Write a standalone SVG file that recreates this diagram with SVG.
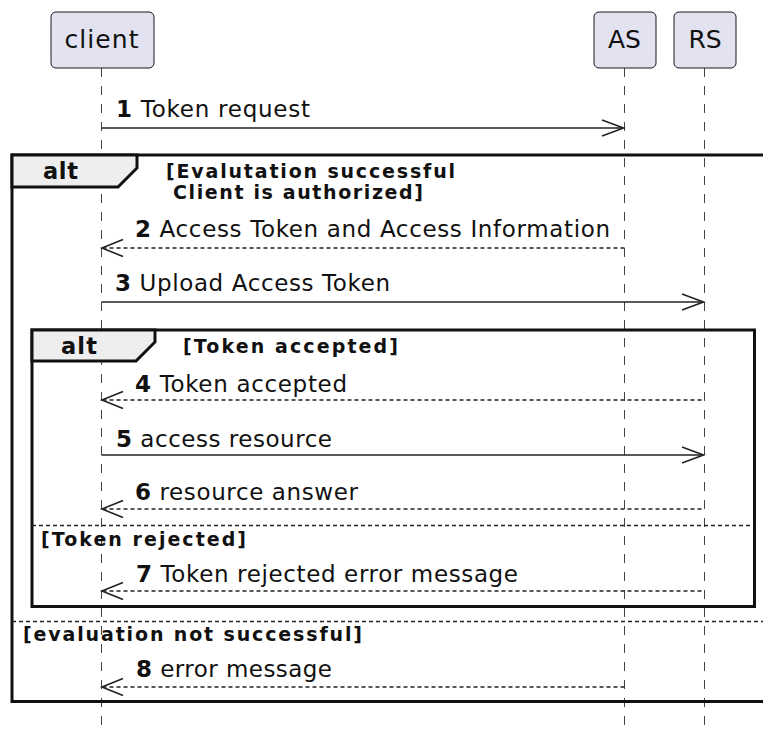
<svg xmlns="http://www.w3.org/2000/svg" width="763" height="731" viewBox="0 0 763 731">
<style>
.bg{fill:#FFFFFF}
.part rect{fill:#E2E2F0;stroke:#181818;stroke-width:1}
.part text{font-family:"DejaVu Sans",sans-serif;font-size:25px;fill:#111;text-anchor:middle}
.life{stroke:#444;stroke-width:1;stroke-dasharray:9,9;fill:none}
.frame{fill:none;stroke:#111;stroke-width:3}
.tab{fill:#EEEEEE;stroke:#111;stroke-width:3}
.sep{stroke:#222;stroke-width:1.4;stroke-dasharray:4,3;fill:none}
.msg{stroke:#222;stroke-width:1.7;fill:none}
.ret{stroke:#222;stroke-width:1.4;stroke-dasharray:4,3;fill:none}
.head{stroke:#222;stroke-width:1.6;fill:none}
.lbl{font-family:"DejaVu Sans",sans-serif;font-size:23px;fill:#111}
.lbl tspan.n{font-weight:bold}
.kw{font-family:"DejaVu Sans",sans-serif;font-size:22.5px;font-weight:bold;fill:#111}
.guard{font-family:"DejaVu Sans",sans-serif;font-size:19px;font-weight:bold;fill:#111}
</style>
<rect class="bg" x="0" y="0" width="763" height="731"/>
<g id="lifelines">
<line class="life" x1="101.5" y1="68" x2="101.5" y2="731"/>
<line class="life" x1="624.5" y1="68" x2="624.5" y2="731"/>
<line class="life" x1="704.5" y1="68" x2="704.5" y2="731"/>
</g>
<g id="participant-client" class="part">
<rect x="51" y="12" width="103" height="56" rx="5"/>
<text x="101.5" y="48" textLength="74" lengthAdjust="spacing">client</text>
</g>
<g id="participant-AS" class="part">
<rect x="594" y="12" width="62" height="56" rx="5"/>
<text x="624.5" y="48">AS</text>
</g>
<g id="participant-RS" class="part">
<rect x="674" y="12" width="62" height="56" rx="5"/>
<text x="705" y="48">RS</text>
</g>
<g id="alt-outer">
<path class="frame" d="M800,155 L12,155 L12,701.5 L800,701.5"/>
<path class="tab" d="M12,155 L137,155 L137,168 L118,187 L12,187 Z"/>
<text class="kw" x="43" y="179" textLength="35" lengthAdjust="spacing">alt</text>
<text class="guard" x="166" y="178" textLength="289" lengthAdjust="spacing">[Evalutation successful</text>
<text class="guard" x="173" y="199" textLength="250" lengthAdjust="spacing">Client is authorized]</text>
<line class="sep" x1="12" y1="621.5" x2="800" y2="621.5"/>
<text class="guard" x="23" y="641" textLength="339" lengthAdjust="spacing">[evaluation not successful]</text>
</g>
<g id="alt-inner">
<rect class="frame" x="32" y="330" width="722.5" height="276.5"/>
<path class="tab" d="M32,330 L155,330 L155,342 L136,361 L32,361 Z"/>
<text class="kw" x="61" y="354" textLength="36" lengthAdjust="spacing">alt</text>
<text class="guard" x="183" y="353" textLength="215" lengthAdjust="spacing">[Token accepted]</text>
<line class="sep" x1="32" y1="525.5" x2="754.5" y2="525.5"/>
<text class="guard" x="41" y="546" textLength="205" lengthAdjust="spacing">[Token rejected]</text>
</g>
<g id="connectors">
<g id="m1">
<line class="msg" x1="101.5" y1="128" x2="623.5" y2="128"/>
<polyline class="head" points="602,120 623.5,128 602,136"/>
<text class="lbl" x="116" y="117" textLength="194" lengthAdjust="spacing"><tspan class="n">1</tspan> Token request</text>
</g>
<g id="m2">
<line class="ret" x1="102.5" y1="248" x2="624.5" y2="248"/>
<polyline class="head" points="123,239.5 102,248 123,256.5"/>
<text class="lbl" x="135" y="237" textLength="475" lengthAdjust="spacing"><tspan class="n">2</tspan> Access Token and Access Information</text>
</g>
<g id="m3">
<line class="msg" x1="101.5" y1="302" x2="703.5" y2="302"/>
<polyline class="head" points="682,294 703.5,302 682,310"/>
<text class="lbl" x="115" y="291" textLength="275" lengthAdjust="spacing"><tspan class="n">3</tspan> Upload Access Token</text>
</g>
<g id="m4">
<line class="ret" x1="102.5" y1="400" x2="704.5" y2="400"/>
<polyline class="head" points="123,391.5 102,400 123,408.5"/>
<text class="lbl" x="135" y="392" textLength="212" lengthAdjust="spacing"><tspan class="n">4</tspan> Token accepted</text>
</g>
<g id="m5">
<line class="msg" x1="101.5" y1="455" x2="703.5" y2="455"/>
<polyline class="head" points="682,447 703.5,455 682,463"/>
<text class="lbl" x="116" y="447" textLength="216" lengthAdjust="spacing"><tspan class="n">5</tspan> access resource</text>
</g>
<g id="m6">
<line class="ret" x1="102.5" y1="509" x2="704.5" y2="509"/>
<polyline class="head" points="123,500.5 102,509 123,517.5"/>
<text class="lbl" x="135" y="500" textLength="223" lengthAdjust="spacing"><tspan class="n">6</tspan> resource answer</text>
</g>
<g id="m7">
<line class="ret" x1="102.5" y1="591" x2="704.5" y2="591"/>
<polyline class="head" points="123,582.5 102,591 123,599.5"/>
<text class="lbl" x="136" y="582" textLength="382" lengthAdjust="spacing"><tspan class="n">7</tspan> Token rejected error message</text>
</g>
<g id="m8">
<line class="ret" x1="102.5" y1="687" x2="624.5" y2="687"/>
<polyline class="head" points="123,678.5 102,687 123,695.5"/>
<text class="lbl" x="136" y="677" textLength="196" lengthAdjust="spacing"><tspan class="n">8</tspan> error message</text>
</g>
</g>
</svg>
